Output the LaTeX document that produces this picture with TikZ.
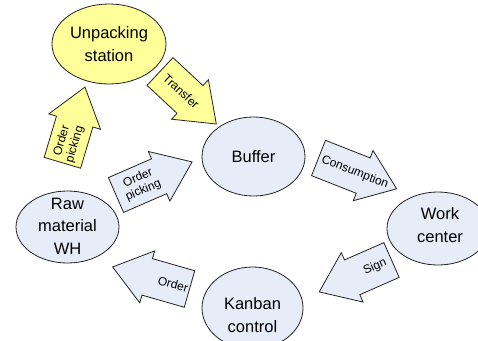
\documentclass[tikz,border=0pt]{standalone}
\usepackage{fontspec}
\setmainfont{Liberation Sans}
\usetikzlibrary{shapes.geometric}
\definecolor{yel}{RGB}{255,255,153}
\definecolor{blu}{RGB}{230,236,248}
\definecolor{edge}{RGB}{35,35,35}
\newcommand\blockarrow[8]{%
\begin{scope}[shift={(#1)},rotate=#2]
\draw[arrbody,fill=#4] (0,-19) -- (#3-36,-19) -- (#3-36,-27) -- (#3,0) -- (#3-36,27) -- (#3-36,19) -- (0,19) -- cycle;
\node[arrlabel,rotate=#7] (#5) at (#6,0) {#8};
\end{scope}}
\begin{document}
\begin{tikzpicture}[x=1pt,y=-1pt,
  shapebox/.style={ellipse, draw=edge, line width=0.8pt, inner sep=0pt},
  boxtext/.style={align=center, inner sep=0pt, font=\fontsize{16.5}{22.5}\selectfont},
  arrbody/.style={draw=edge, line width=0.8pt, line join=miter},
  arrlabel/.style={align=center, inner sep=0pt, font=\fontsize{12}{13.5}\selectfont}]
\useasboundingbox (0,0) rectangle (478,340);
\clip (0,0) rectangle (478,340);
% ellipses
\node[shapebox, fill=yel, minimum width=114pt, minimum height=80pt] (unpack) at (109,44) {};
\node[boxtext] (unpacktxt) at (109,44) {Unpacking\\station};
\node[shapebox, fill=blu, minimum width=103pt, minimum height=79pt] (buffer) at (253.5,156.5) {};
\node[boxtext] (buffertxt) at (253.5,157) {Buffer};
\node[shapebox, fill=blu, minimum width=102pt, minimum height=73pt] (work) at (438,228.5) {};
\node[boxtext] (worktxt) at (440,225) {Work\\center};
\node[shapebox, fill=blu, minimum width=103pt, minimum height=72pt] (raw) at (67.5,227) {};
\node[boxtext] (rawtxt) at (67.5,226) {Raw\\material\\WH};
\node[shapebox, fill=blu, minimum width=101pt, minimum height=82pt] (kanban) at (252.5,308) {};
\node[boxtext] (kanbantxt) at (252.5,315) {Kanban\\control};
% block arrows
\blockarrow{62.4,162.8}{73.4}{79}{yel}{opy}{21}{73.4}{Order\\picking}
\blockarrow{160,71.5}{-43}{77}{yel}{transfer}{29}{-43}{Transfer}
\blockarrow{116,195}{23.5}{83}{blu}{opb}{27}{23.5}{Order\\picking}
\blockarrow{318.5,158}{-21.5}{84}{blu}{cons}{39}{-21.5}{Consumption}
\blockarrow{391.5,260}{203.8}{79}{blu}{sign}{18}{23.8}{Sign}
\blockarrow{189.5,289}{164}{80}{blu}{order}{17}{-16}{Order}
\end{tikzpicture}
\end{document}
